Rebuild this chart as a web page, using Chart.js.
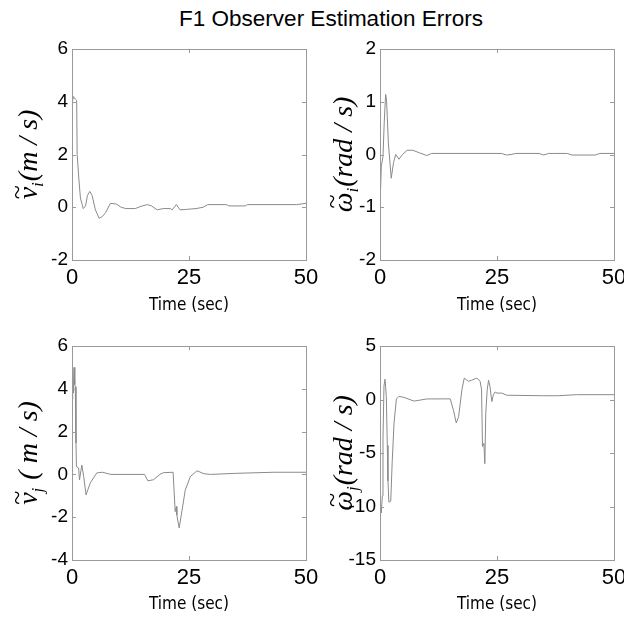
<!DOCTYPE html>
<html>
<head>
<meta charset="utf-8">
<script src="https://cdn.jsdelivr.net/npm/chart.js@4.4.0/dist/chart.umd.min.js"></script>
<style>
  html, body { margin:0; padding:0; width:624px; height:620px; overflow:hidden; background:#fff; }
  #title { position:absolute; top:6px; left:331px; transform:translateX(-50%); white-space:nowrap;
           font-family:"Liberation Sans", Arial, sans-serif; font-size:22.5px; color:#000; }
  .box { position:absolute; }
</style>
</head>
<body>
<div id="title">F1 Observer Estimation Errors</div>
<div class="box" style="left:0;top:30px"><canvas id="c1" width="330" height="290"></canvas></div>
<div class="box" style="left:312px;top:30px"><canvas id="c2" width="330" height="290"></canvas></div>
<div class="box" style="left:0;top:320px"><canvas id="c3" width="330" height="300"></canvas></div>
<div class="box" style="left:312px;top:320px"><canvas id="c4" width="330" height="300"></canvas></div>
<script>
// ---- data ----
const timeVi = [0, 0.3, 0.7, 1.0, 1.1, 1.5, 1.8, 2.4, 2.9, 3.3, 3.8, 4.3, 5.0, 5.8, 6.5, 7.2, 8.2, 9.5, 10.5, 11.5, 13.5, 15, 16.1, 17, 18.2, 19.5, 21, 21.4, 22.3, 23.1, 24.5, 26.5, 28, 29, 33, 33.5, 37, 37.5, 48, 50];
const errVi  = [3.9, 4.2, 4.1, 4.05, 2.0, 1.0, 0.35, -0.05, 0.05, 0.45, 0.6, 0.45, -0.1, -0.42, -0.35, -0.2, 0.15, 0.12, 0.0, -0.05, -0.05, 0.05, 0.1, 0.05, -0.1, -0.05, -0.05, -0.1, 0.1, -0.1, -0.08, -0.05, 0.0, 0.1, 0.1, 0.05, 0.05, 0.1, 0.1, 0.15];

const timeWi = [0, 0.28, 0.64, 0.9, 1.2, 1.4, 1.8, 2.4, 2.9, 3.35, 4.06, 4.8, 5.8, 7, 8.5, 10, 11, 26, 27, 28, 29, 34, 35, 36, 37, 40, 41, 46, 47, 50];
const errWi  = [-0.99, -0.23, -0.04, 0.6, 1.14, 1.03, 0.2, -0.45, -0.15, 0.0, -0.09, 0.0, 0.08, 0.08, 0.03, -0.02, 0.02, 0.02, -0.01, 0.0, 0.02, 0.02, -0.01, 0.02, 0.02, 0.02, -0.01, -0.01, 0.02, 0.02];

const timeVj = [0, 0.15, 0.3, 0.45, 0.6, 0.7, 0.85, 0.95, 1.42, 1.6, 2.1, 2.5, 3.0, 3.9, 5.3, 6.5, 8.3, 15.5, 16.2, 17.4, 18.8, 19.5, 21.6, 22.05, 22.3, 22.4, 22.9, 23.5, 24.2, 25.3, 26.7, 28.2, 29.6, 35, 43, 50];
const errVj  = [3.5, 4.9, 3.8, 5.0, 4.2, 4.1, 1.47, 0.36, 0.3, -0.26, 0.44, -0.1, -0.96, -0.4, 0.07, 0.1, 0.0, 0.0, -0.3, -0.25, 0.0, 0.08, 0.1, -1.74, -1.5, -1.9, -2.5, -1.7, -0.73, -0.1, 0.17, 0.03, 0.0, 0.05, 0.1, 0.1];

const timeWj = [0, 0.28, 0.5, 0.64, 0.85, 1.07, 1.35, 1.56, 1.7, 1.9, 2.3, 2.6, 3.0, 3.5, 4.06, 5.1, 7.3, 10, 15, 15.7, 16.3, 16.8, 17.5, 18, 18.9, 19.6, 20.7, 21.4, 21.7, 21.9, 22.2, 22.4, 22.6, 22.9, 23.2, 23.5, 23.9, 24.2, 24.6, 25, 26, 27.1, 35, 38, 42, 50];
const errWj  = [-9.3, -10.6, -9.0, -3.7, 1.26, 1.9, 0.3, -4.3, -7.6, -9.6, -9.5, -5.9, -2.2, 0.05, 0.3, 0.2, -0.15, 0.05, 0.06, -1, -2.2, -1.6, 0.9, 2.0, 1.7, 1.8, 2.0, 1.7, 0.9, -4.4, -4.1, -6.0, -1.3, 0.9, 1.8, 1.2, -0.2, 0.4, 0.7, 0.6, 0.6, 0.4, 0.35, 0.35, 0.45, 0.45];

const xTickStep = 25;
const xRange = [0, 50];
const yRangeVi = [-2, 6], yStepVi = 2;
const yRangeWi = [-2, 2], yStepWi = 1;
const yRangeVj = [-4, 6], yStepVj = 2;
const yRangeWj = [-15, 5], yStepWj = 5;

const xTitle = 'Time (sec)';
// y titles: [symbol (drawn with a tilde above), subscript, unit]
const yTitleVi = ['v', 'i', '(m / s)'];
const yTitleWi = ['ω', 'i', '(rad / s)'];
const yTitleVj = ['v', 'j', ' ( m / s)'];
const yTitleWj = ['ω', 'j', '(rad / s)'];

// ---- styling / drawing ----
const AXIS_COLOR = '#9a9a9a';
const LINE_COLOR = '#8a8a8a';
const SERIF = '"Liberation Serif", "Times New Roman", serif';

const frame = {
  id: 'frame',
  afterDraw(chart) {
    const {ctx, chartArea: a, scales: {x, y}} = chart;
    ctx.save();
    ctx.strokeStyle = AXIS_COLOR;
    ctx.lineWidth = 1;
    ctx.strokeRect(Math.round(a.left) + 0.5, Math.round(a.top) + 0.5,
                   Math.round(a.right - a.left), Math.round(a.bottom - a.top));
    ctx.beginPath();
    x.ticks.forEach((t, i) => {
      const px = Math.round(x.getPixelForTick(i)) + 0.5;
      ctx.moveTo(px, a.bottom); ctx.lineTo(px, a.bottom - 4);
      ctx.moveTo(px, a.top); ctx.lineTo(px, a.top + 4);
    });
    y.ticks.forEach((t, i) => {
      const py = Math.round(y.getPixelForTick(i)) + 0.5;
      ctx.moveTo(a.left, py); ctx.lineTo(a.left + 4, py);
      ctx.moveTo(a.right, py); ctx.lineTo(a.right - 4, py);
    });
    ctx.stroke();
    ctx.restore();
  }
};

function yLabel(parts, cx) {
  return {
    id: 'ylab',
    afterDraw(chart) {
      const {ctx, chartArea: a} = chart;
      const [base, sub, rest] = parts;
      const fMain = 'italic 28px ' + SERIF;
      const fSub = 'italic 17px ' + SERIF;
      const fTil = '26px ' + SERIF;
      ctx.save();
      ctx.fillStyle = '#000';
      ctx.translate(cx, (a.top + a.bottom) / 2);
      ctx.rotate(-Math.PI / 2);
      ctx.textBaseline = 'alphabetic';
      ctx.textAlign = 'left';
      ctx.font = fMain; const wb = ctx.measureText(base).width; const wr = ctx.measureText(rest).width;
      ctx.font = fSub; const ws = ctx.measureText(sub).width;
      const gap = 1;
      const x0 = -(wb + ws + gap + wr) / 2;
      const bl = 8;
      ctx.font = fMain; ctx.fillText(base, x0, bl);
      ctx.font = fTil; ctx.textAlign = 'center'; ctx.fillText('~', x0 + wb / 2 + 1, bl - 12);
      ctx.textAlign = 'left';
      ctx.font = fSub; ctx.fillText(sub, x0 + wb, bl + 6);
      ctx.font = fMain; ctx.fillText(rest, x0 + wb + ws + gap, bl);
      ctx.restore();
    }
  };
}

function makeChart(id, t, vals, yr, ystep, ytitle, cfg) {
  const data = t.map((tv, i) => ({x: tv, y: vals[i]}));
  return new Chart(document.getElementById(id), {
    type: 'line',
    data: { datasets: [{ data, borderColor: LINE_COLOR, borderWidth: 1, pointRadius: 0, tension: 0, fill: false }] },
    options: {
      responsive: false, animation: false, devicePixelRatio: 1,
      layout: { padding: { top: cfg.padTop, right: cfg.padRight, left: 0, bottom: 0 } },
      plugins: { legend: { display: false }, tooltip: { enabled: false }, title: { display: false } },
      scales: {
        x: {
          type: 'linear', min: xRange[0], max: xRange[1],
          grid: { display: false, drawTicks: false },
          border: { display: false },
          ticks: { stepSize: xTickStep, color: '#000', padding: 5, maxRotation: 0,
                   font: { family: '"Liberation Sans", Arial, sans-serif', size: 22 } },
          title: { display: true, text: xTitle, color: '#000', padding: { top: 0, bottom: cfg.xTitlePad },
                   font: { family: '"DejaVu Sans Condensed", "Liberation Sans", Arial, sans-serif', size: 17 } },
          afterFit: s => { s.height = 60; }
        },
        y: {
          min: yr[0], max: yr[1],
          grid: { display: false, drawTicks: false },
          border: { display: false },
          ticks: { stepSize: ystep, color: '#000', padding: 4,
                   font: { family: '"Liberation Sans", Arial, sans-serif', size: 19 } },
          title: { display: false },
          afterFit: s => { s.width = cfg.yWidth; }
        }
      }
    },
    plugins: [frame, yLabel(ytitle, cfg.labelX)]
  });
}

makeChart('c1', timeVi, errVi, yRangeVi, yStepVi, yTitleVi, { padTop: 19, padRight: 24, yWidth: 72, labelX: 29, xTitlePad: 4 });
makeChart('c2', timeWi, errWi, yRangeWi, yStepWi, yTitleWi, { padTop: 19, padRight: 28, yWidth: 68, labelX: 32, xTitlePad: 4 });
makeChart('c3', timeVj, errVj, yRangeVj, yStepVj, yTitleVj, { padTop: 26, padRight: 24, yWidth: 72, labelX: 29, xTitlePad: 5 });
makeChart('c4', timeWj, errWj, yRangeWj, yStepWj, yTitleWj, { padTop: 26, padRight: 28, yWidth: 68, labelX: 32, xTitlePad: 5 });
</script>
</body>
</html>
